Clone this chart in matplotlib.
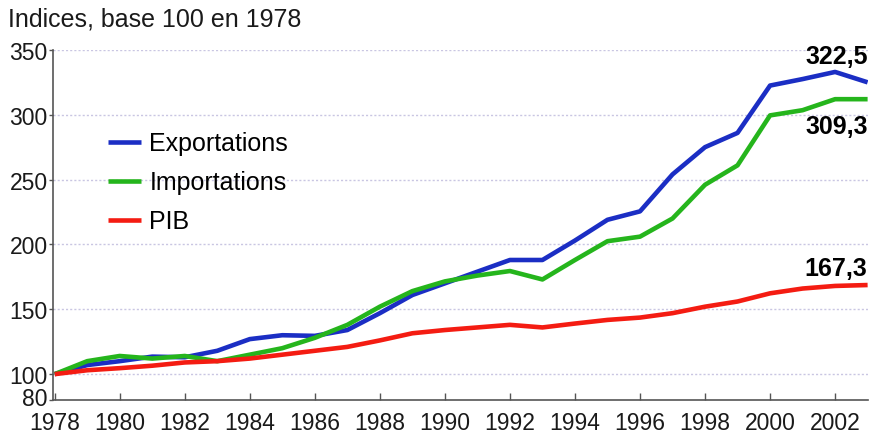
import matplotlib.pyplot as plt
import matplotlib.transforms as mtransforms

plt.rcParams['font.family'] = ['Liberation Sans', 'DejaVu Sans']

years = list(range(1978, 2004))
exportations = [100, 107, 110, 113.5, 113, 118, 127, 130, 129.5, 134, 147, 161, 170, 179,
                188, 188, 203, 219, 225.5, 254, 275, 286, 322.5, 327.5, 333, 325]
importations = [100, 110, 114, 112, 114, 110, 115, 120, 128, 138, 152, 164, 171.5, 176,
                179.5, 173, 188, 202.5, 206, 220, 246, 261, 299.5, 303.5, 312, 312]
pib = [100, 103, 104.6, 106.5, 109, 110, 112, 115, 118, 121, 126, 131.5, 134, 136,
       138, 136, 139, 141.8, 143.6, 147, 152, 156, 162.3, 166, 168, 168.7]

series_names = ['Exportations', 'Importations', 'PIB']
end_labels = ['322,5', '309,3', '167,3']
colors = ['#1b2ec4', '#25b51c', '#f41c12']

fig = plt.figure(figsize=(8.7, 4.35), dpi=100)
ax = fig.add_axes([0.061, 0.078, 0.937, 0.805])

for vals, name, c in zip([exportations, importations, pib], series_names, colors):
    ax.plot(years, vals, color=c, lw=3.3, label=name, solid_joinstyle='round',
            solid_capstyle='butt', zorder=3)

ax.set_xlim(1977.95, 2003.02)
ax.set_ylim(80, 350)
ax.set_xticks(range(1978, 2003, 2))
ax.set_yticks([80, 100, 150, 200, 250, 300, 350])
ax.tick_params(axis='x', direction='in', length=5, width=1, colors='#555555',
               labelcolor='#1a1a1a', labelsize=16.5, pad=8)
ax.tick_params(axis='y', direction='out', length=3, width=1, colors='#555555',
               labelcolor='#1a1a1a', labelsize=16.5, pad=1)

# petit décalage du "80" vers le haut pour qu'il ne touche pas "1978"
lab80 = ax.yaxis.get_major_ticks()[0].label1
lab80.set_transform(lab80.get_transform() +
                    mtransforms.ScaledTranslation(0, 4 / 100, fig.dpi_scale_trans))

for g in [100, 150, 200, 250, 300, 350]:
    ax.axhline(g, color='#c9c6e2', lw=1, ls=(0, (1.5, 1.5)), zorder=1)

for side in ['top', 'right']:
    ax.spines[side].set_visible(False)
for side in ['left', 'bottom']:
    ax.spines[side].set_color('#555555')
    ax.spines[side].set_linewidth(1.2)

# valeurs finales
ax.text(2003, 345, end_labels[0], ha='right', va='center', fontsize=18, fontweight='bold')
ax.text(2003, 291, end_labels[1], ha='right', va='center', fontsize=18, fontweight='bold')
ax.text(2003, 181.5, end_labels[2], ha='right', va='center', fontsize=18, fontweight='bold')

fig.text(0.009, 0.955, 'Indices, base 100 en 1978', fontsize=18, ha='left', va='center',
         color='#1a1a1a')

ax.legend(loc='upper left', bbox_to_anchor=(0.0675, 0.767), frameon=False,
          borderaxespad=0, borderpad=0, handlelength=1.3, handletextpad=0.35,
          labelspacing=0.6, fontsize=18)

fig.savefig('out.png', dpi=100)
